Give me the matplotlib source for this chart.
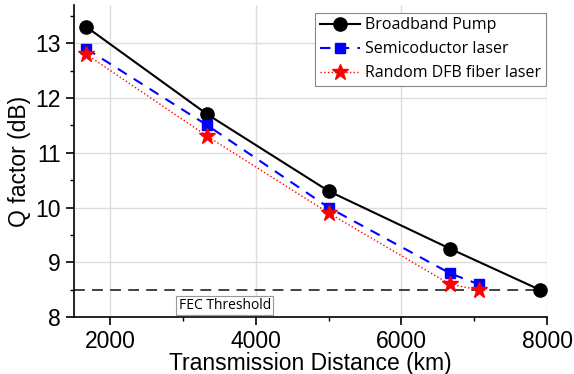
import numpy as np
import matplotlib.pyplot as plt

distancia = [1667, 3333, 5000, 6667, 7900]
q_broadband = [13.3, 11.7, 10.3, 9.25, 8.5]

distancia_semi = [1667, 3333, 5000, 6667, 7060]
q_semi = [12.9, 11.5, 10.0, 8.8, 8.6]

distancia_dfb = [1667, 3333, 5000, 6667, 7060]
q_dfb = [12.8, 11.3, 9.9, 8.6, 8.5]

umbral_fec = 8.5

fig = plt.figure(figsize=(5.74, 3.74), dpi=100)
ax = fig.add_axes([0.129, 0.152, 0.824, 0.835])

ax.plot(distancia, q_broadband, color="black", lw=1.5, marker="o", ms=9.5, label="Broadband Pump", zorder=4)
ax.plot(distancia_semi, q_semi, color="blue", lw=1.5, ls=(0, (5, 4)), marker="s", ms=7, label="Semicoductor laser", zorder=4)
ax.plot(distancia_dfb, q_dfb, color="red", lw=1.0, ls=":", marker="*", ms=12, label="Random DFB fiber laser", zorder=4)
ax.axhline(umbral_fec, color="black", lw=1.3, ls=(0, (6, 4)), alpha=0.8, zorder=3)

ax.text(3570, 8.22, "FEC Threshold", fontsize=10, family="Open Sans", ha="center", va="center",
        bbox=dict(boxstyle="square,pad=0.15", fc="white", ec="#999999", lw=0.8))

ax.set_xlim(1500, 8000)
ax.set_ylim(8, 13.7)
ax.set_xticks([2000, 4000, 6000, 8000])
ax.set_xticks([3000, 5000, 7000], minor=True)
ax.set_yticks([8, 9, 10, 11, 12, 13])
ax.set_yticks([8.5, 9.5, 10.5, 11.5, 12.5, 13.5], minor=True)
ax.grid(True, which="major", color="#dddddd", lw=1.0)
ax.set_axisbelow(True)
for s in ["top", "right"]:
    ax.spines[s].set_visible(False)
for s in ["left", "bottom"]:
    ax.spines[s].set_linewidth(1.2)
ax.tick_params(which="major", length=6, width=1.2, labelsize=16.5)
ax.tick_params(which="minor", length=3, width=1.0)
for t in ax.get_xticklabels() + ax.get_yticklabels():
    t.set_family("Liberation Sans")

ax.set_xlabel("Transmission Distance (km)", fontsize=16.5, family="Liberation Sans", labelpad=-1)
ax.set_ylabel("Q factor (dB)", fontsize=16.5, family="Liberation Sans", labelpad=3)

leg = ax.legend(loc="upper right", bbox_to_anchor=(0.997, 0.975), prop={"family": "Open Sans", "size": 11.5},
                fancybox=False, framealpha=1, edgecolor="#888888", handlelength=2.5,
                borderpad=0.3, labelspacing=0.5, handletextpad=0.3, borderaxespad=0.0)
leg.get_frame().set_linewidth(0.8)

plt.savefig("out.png", dpi=100)
